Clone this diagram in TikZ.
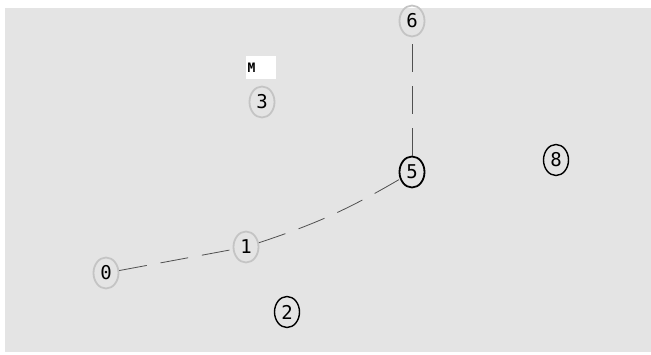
\documentclass[tikz,border=0pt]{standalone}
\usepackage{fontspec}
\setmainfont{DejaVu Sans Mono}
\usetikzlibrary{shapes.geometric}
\definecolor{bggray}{RGB}{228, 228, 228}
\definecolor{ringgray}{RGB}{196, 196, 196}
\definecolor{edgegray}{RGB}{80, 80, 80}

\begin{document}
\begin{tikzpicture}[x=1pt, y=-1pt,
    vert/.style={ellipse, draw, line width=1.4pt, minimum width=25pt, minimum height=31pt,
      inner sep=0pt, font=\fontsize{19}{19}\selectfont},
    faded/.style={vert, draw=ringgray, line width=1.8pt},
    link/.style={edgegray, line width=0.8pt, dash pattern=on 28pt off 14pt}]
    %% canvas
    \useasboundingbox (0,0) rectangle (651,354);
    \fill[bggray] (5,8) rectangle (651,352);

    %% vertices
    \node[faded] (n0) at (106,273) {0};
    \node[faded] (n1) at (246,247) {1};
    \node[vert] (n2) at (287,312) {2};
    \node[faded] (n3) at (262,102) {3};
    \node[vert, line width=1.8pt] (n5) at (412,172) {5};
    \node[faded] (n6) at (412,21) {6};
    \node[vert] (n8) at (556,160) {8};

    %% label box
    \node[fill=white, minimum width=30pt, minimum height=23pt, inner sep=0pt,
      font=\fontsize{13}{13}\selectfont\bfseries, text width=27pt, align=left] (lab) at (261,67.5) {M};

    %% links
    \draw[link] (n0) -- (n1);
    \draw[link] (n1) to[bend right=6] (n5);
    \draw[link] (n5) -- (n6);
  \end{tikzpicture}
\end{document}
